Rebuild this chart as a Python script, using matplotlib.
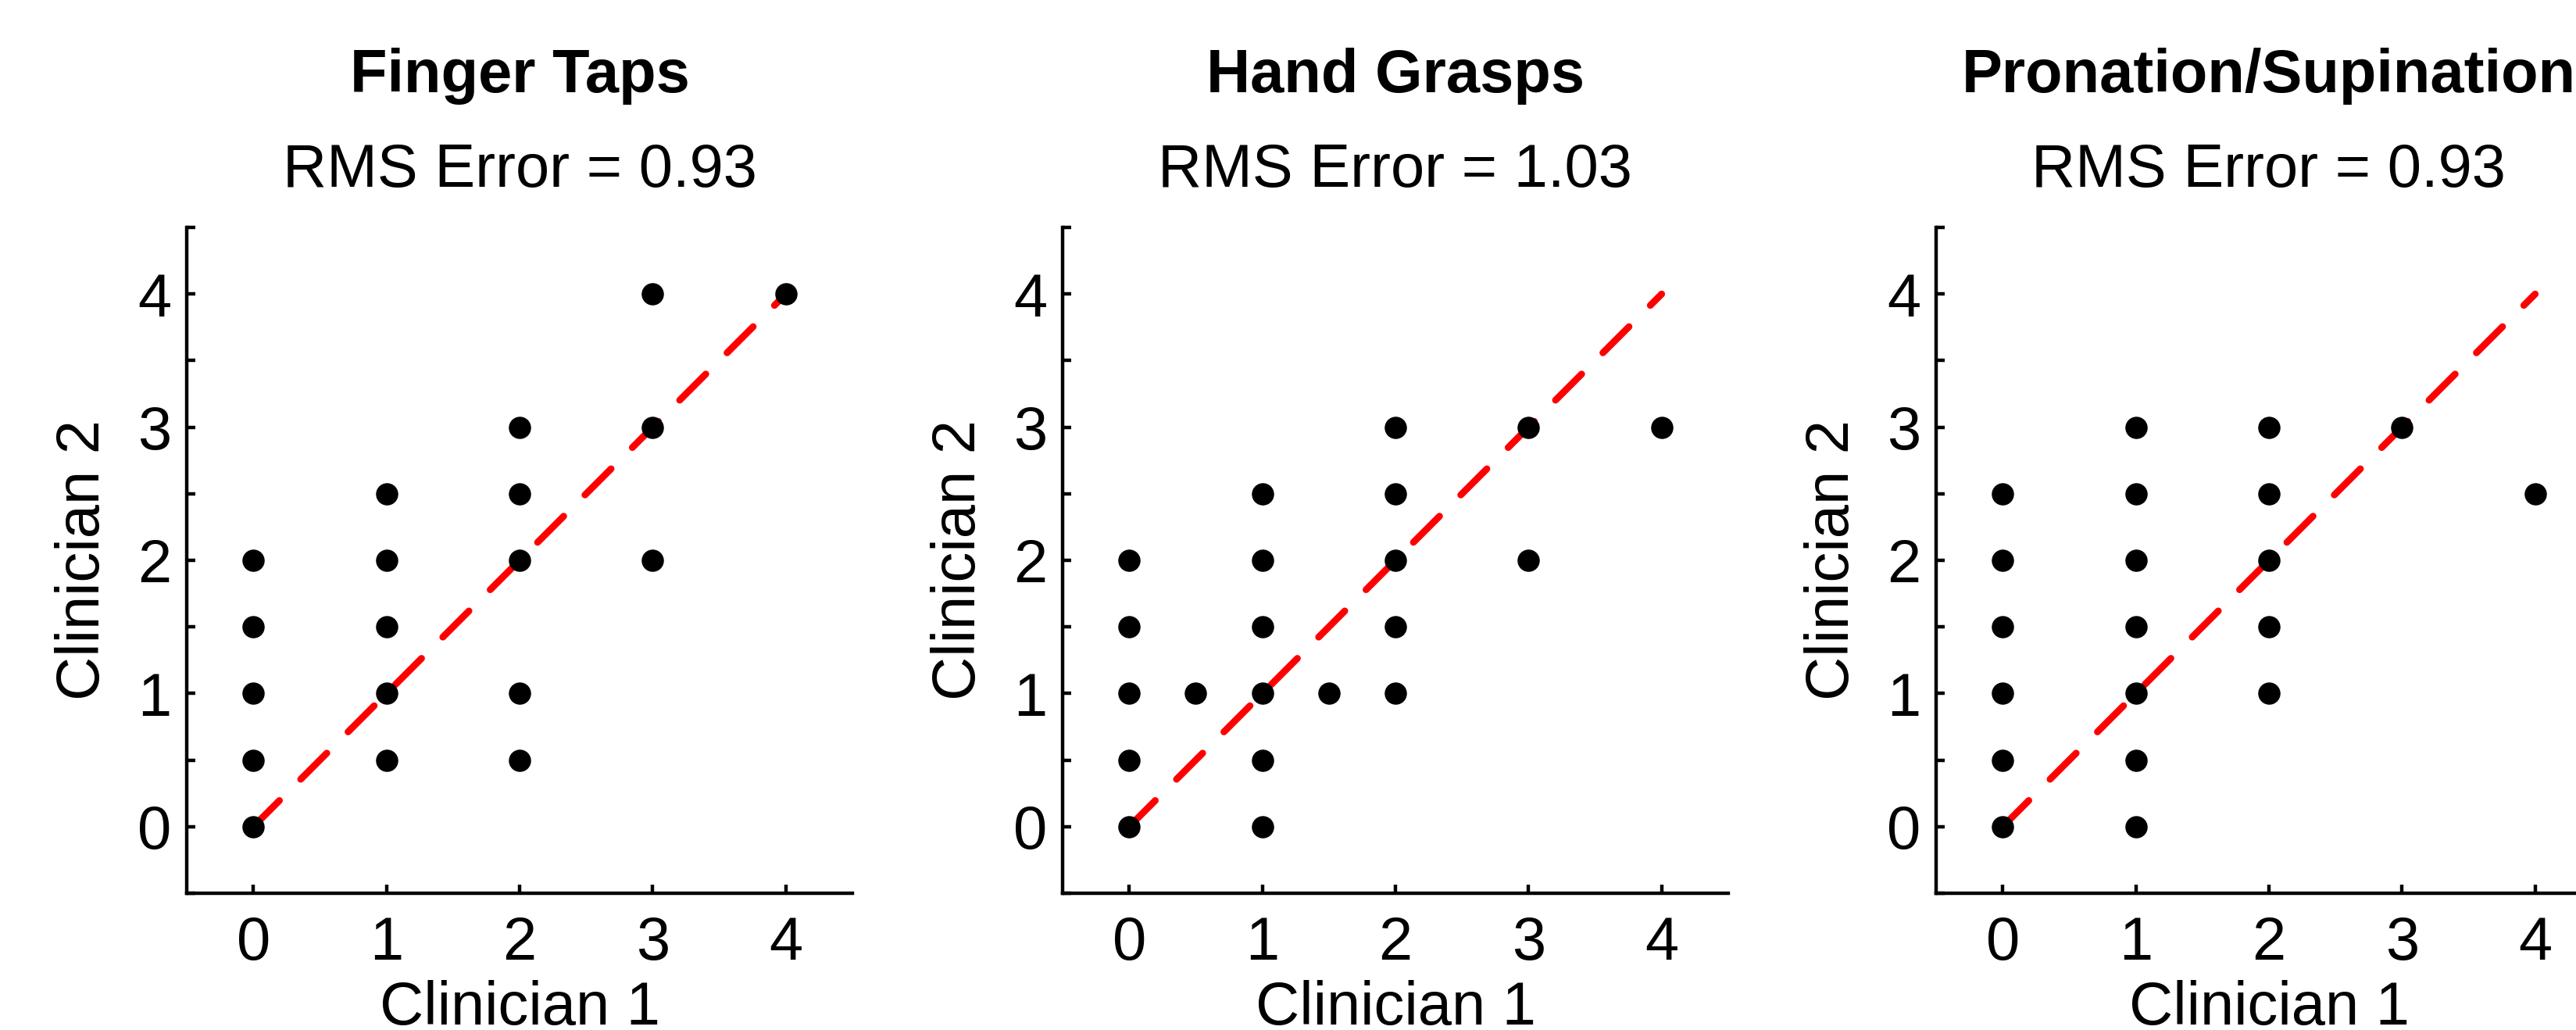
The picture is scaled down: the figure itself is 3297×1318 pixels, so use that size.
import matplotlib.pyplot as plt
from matplotlib.ticker import MultipleLocator

plt.rcParams['font.family'] = ['Liberation Sans', 'DejaVu Sans']

# panel titles and RMS errors
titles = ["Finger Taps", "Hand Grasps", "Pronation/Supination"]
rms_errors = [0.93, 1.03, 0.93]

# Finger Taps scores (clinician 1, clinician 2)
taps_c1 = [0, 0, 0, 0, 0, 1, 1, 1, 1, 1, 2, 2, 2, 2, 2, 3, 3, 3, 4]
taps_c2 = [0, 0.5, 1, 1.5, 2, 0.5, 1, 1.5, 2, 2.5, 0.5, 1, 2, 2.5, 3, 2, 3, 4, 4]

# Hand Grasps scores
grasp_c1 = [0, 0, 0, 0, 0, 0.5, 1, 1, 1, 1, 1, 1, 1.5, 2, 2, 2, 2, 2, 3, 3, 4]
grasp_c2 = [0, 0.5, 1, 1.5, 2, 1, 0, 0.5, 1, 1.5, 2, 2.5, 1, 1, 1.5, 2, 2.5, 3, 2, 3, 3]

# Pronation/Supination scores
pron_c1 = [0, 0, 0, 0, 0, 0, 1, 1, 1, 1, 1, 1, 1, 2, 2, 2, 2, 2, 3, 4]
pron_c2 = [0, 0.5, 1, 1.5, 2, 2.5, 0, 0.5, 1, 1.5, 2, 2.5, 3, 1, 1.5, 2, 2.5, 3, 3, 2.5]

# identity line
line_x = [0, 4]
line_y = [0, 4]

c1_sets = [taps_c1, grasp_c1, pron_c1]
c2_sets = [taps_c2, grasp_c2, pron_c2]

fig = plt.figure(figsize=(32.97, 13.18), dpi=100)
lefts = [0.0725, 0.4125, 0.7516]

for i in range(3):
    ax = fig.add_axes([lefts[i], 0.1328, 0.2584, 0.6464])
    ax.plot(line_x, line_y, color='red', lw=6.3, dashes=(5.4, 4.4),
            dash_capstyle='round', zorder=2)
    ax.plot(c1_sets[i], c2_sets[i], 'o', color='black', markersize=19.5,
            zorder=3)

    ax.set_xlim(-0.5, 4.5)
    ax.set_ylim(-0.5, 4.5)
    ax.set_xticks([0, 1, 2, 3, 4])
    ax.set_yticks([0, 1, 2, 3, 4])
    ax.yaxis.set_minor_locator(MultipleLocator(0.5))

    for side in ['top', 'right']:
        ax.spines[side].set_visible(False)
    for side in ['left', 'bottom']:
        ax.spines[side].set_linewidth(3.2)

    ax.tick_params(axis='both', which='both', direction='in', length=8,
                   width=3.2, labelsize=56)
    ax.tick_params(axis='x', pad=20)
    ax.tick_params(axis='y', pad=14)

    ax.set_xlabel("Clinician 1", fontsize=56)
    ax.set_ylabel("Clinician 2", fontsize=56)
    ax.xaxis.set_label_coords(0.5, -0.13)
    ax.yaxis.set_label_coords(-0.113, 0.5)

    ax.text(0.5, 1.203, titles[i], transform=ax.transAxes, ha='center',
            va='baseline', fontsize=56, fontweight='bold')
    ax.text(0.5, 1.061, "RMS Error = %.2f" % rms_errors[i],
            transform=ax.transAxes, ha='center', va='baseline', fontsize=56)

fig.savefig("out.png", dpi=100)
